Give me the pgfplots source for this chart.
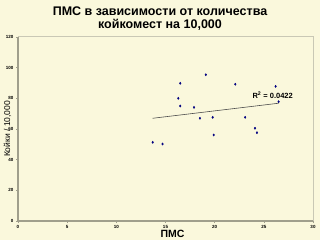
\documentclass[border=0pt]{standalone}
\usepackage{pgfplots}
\pgfplotsset{compat=1.18}
\usepackage{fontspec}
\setmainfont{Liberation Sans}
\definecolor{bgc}{HTML}{FAF8DC}
\definecolor{axc}{HTML}{A09F8C}
\definecolor{frc}{HTML}{C9C8B5}
\definecolor{ptc}{HTML}{000080}
\begin{document}
\begin{tikzpicture}[x=1bp,y=1bp]
\fill[bgc] (0,0) rectangle (320,240);
\useasboundingbox (0,0) rectangle (320,240);
\node[font=\fontsize{12.5bp}{13.5bp}\selectfont\bfseries, align=center] at (160,221.5) {ПМС в зависимости от количества\\койкомест на 10,000};
\begin{axis}[
    at={(18bp,19bp)}, anchor=south west,
    scale only axis, width=295bp, height=184bp,
    xmin=0, xmax=30, ymin=0, ymax=120,
    xtick={0,5,...,30}, ytick={0,20,...,120},
    axis x line*=bottom, axis y line*=left,
    axis line style={axc, line width=1.2bp},
    tick align=outside, major tick length=2bp,
    tick style={axc, line width=0.6bp},
    ticklabel style={font=\fontsize{4.5bp}{5bp}\selectfont\bfseries, text=black},
    /pgf/number format/assume math mode=true,
    xticklabel style={yshift=1bp}, yticklabel style={xshift=1bp},
    xlabel={\textbf{ПМС}},
    xlabel style={font=\fontsize{10.5bp}{12bp}\selectfont, yshift=5bp, xshift=7bp},
    ylabel={Койки / 10,000},
    ylabel style={font=\fontsize{8.5bp}{10bp}\selectfont, yshift=-12bp},
    clip=false,
]
\draw[frc, line width=1bp] (axis cs:0,120) -- (axis cs:30,120) -- (axis cs:30,0);
\addplot[gray!60!black, line width=0.6bp] coordinates {(13.7,67.0) (26.5,76.8)};
\addplot[only marks, mark=diamond*, mark size=1.1bp, ptc] coordinates {
    (13.7,51.3) (14.7,50.2) (16.5,89.8) (16.3,80.0) (16.5,75.0)
    (17.9,74.1) (18.5,67.0) (19.1,95.4) (19.8,67.6) (19.9,56.1)
    (22.1,89.2) (23.1,67.6) (24.1,60.5) (24.3,57.6) (26.2,87.8)
    (26.5,77.8)
};
\node[font=\fontsize{7.5bp}{8bp}\selectfont\bfseries] at (axis cs:25.9,82) {R$^{\mathbf{2}}$ = 0.0422};
\end{axis}
\end{tikzpicture}
\end{document}
